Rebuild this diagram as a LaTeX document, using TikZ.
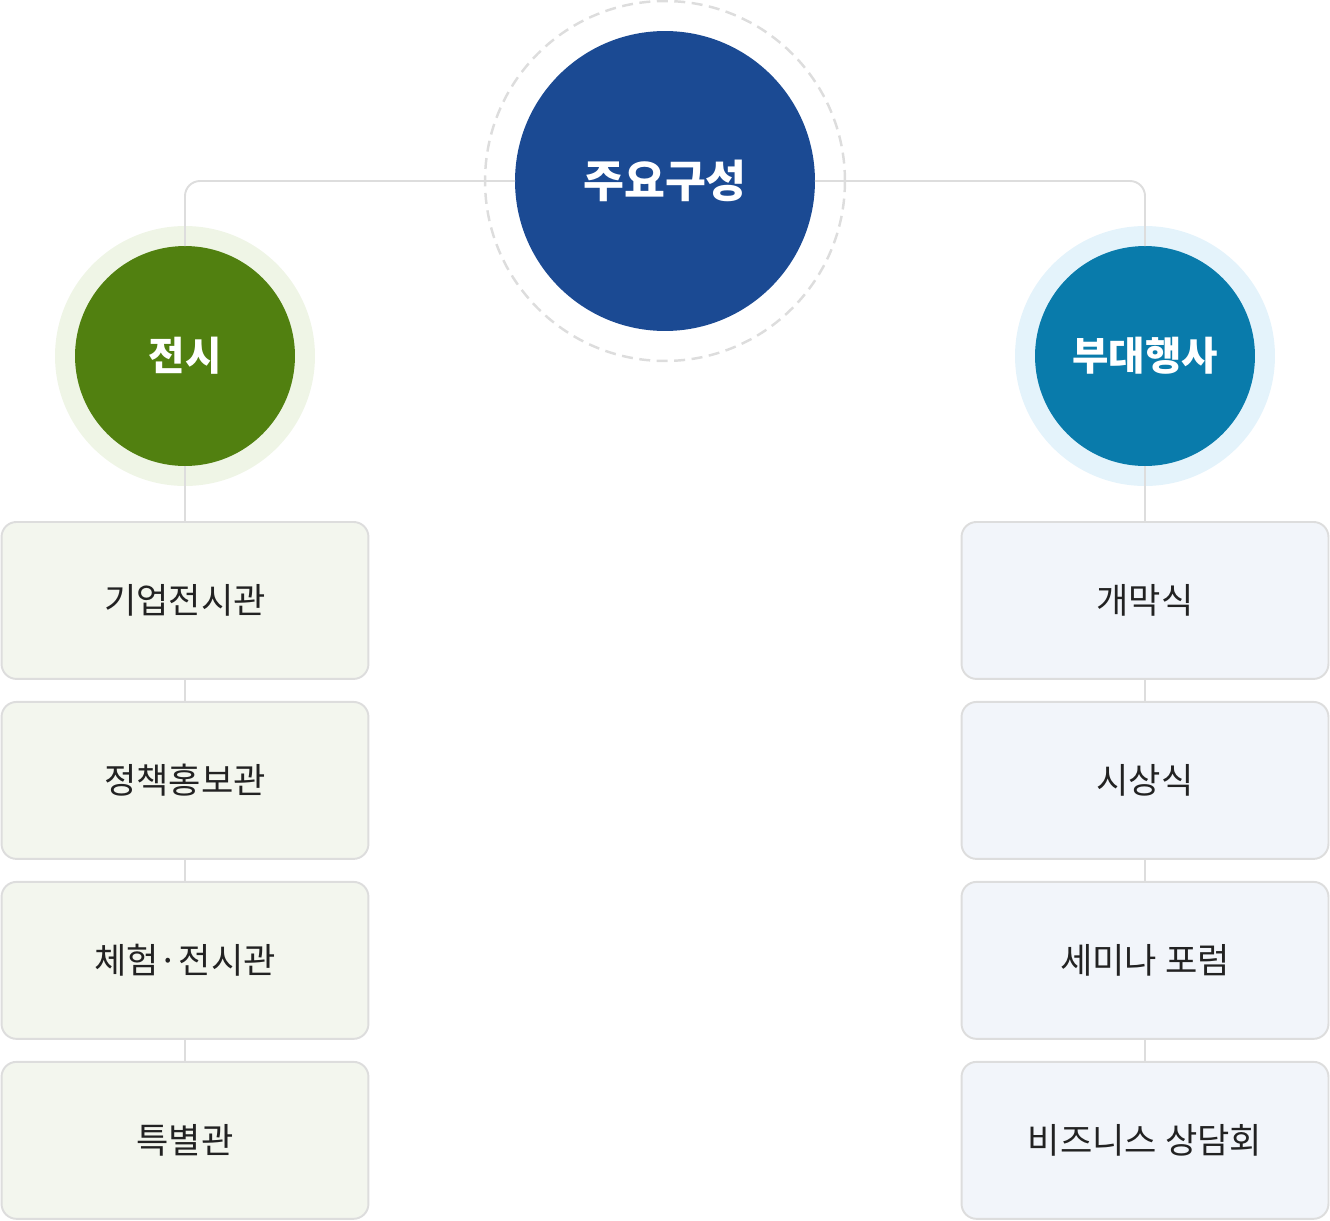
\documentclass[tikz,border=0pt]{standalone}
\usepackage{fontspec}
\setmainfont{Noto Sans CJK KR}
\usetikzlibrary{positioning}

\definecolor{mainblue}{HTML}{1B4A93}
\definecolor{showgreen}{HTML}{518010}
\definecolor{showhalo}{HTML}{EFF5E6}
\definecolor{eventblue}{HTML}{097BAB}
\definecolor{eventhalo}{HTML}{E4F3FB}
\definecolor{showfill}{HTML}{F3F6EE}
\definecolor{eventfill}{HTML}{F2F5FA}
\definecolor{linegray}{HTML}{DDDDDD}
\definecolor{textdark}{HTML}{222222}

\tikzset{
	hub/.style = {circle, text = white, font = \fontsize{22.5}{26}\selectfont\bfseries, minimum size = 4.4cm, inner sep = 0pt, outer sep = 0pt},
	item/.style = {rectangle, rounded corners = 0.3cm, draw = linegray, line width = 1.1pt, text = textdark, font = \fontsize{20}{24}\selectfont, minimum width = 7.34cm, minimum height = 3.14cm, inner sep = 0pt, outer sep = 0pt},
	link/.style = {draw = linegray, line width = 1.1pt, rounded corners = 0.3cm}
}

\begin{document}
\begin{tikzpicture}[x = 0.02cm, y = -0.02cm, node distance = 0.46cm]

	\useasboundingbox (0, 0) rectangle (1330, 1221);

	% Halos
	
		\draw [linegray, dashed, dash pattern = on 0.22cm off 0.13cm, line width = 1.4pt] (665, 181) circle (3.6cm);
		\fill [showhalo] (185, 356) circle (2.6cm);
		\fill [eventhalo] (1145, 356) circle (2.6cm);
	
	% Circles
	
		\node (main) [circle, fill = mainblue, text = white, minimum size = 6cm, inner sep = 0pt, outer sep = 0pt, font = \fontsize{25.3}{29}\selectfont\bfseries] at (665, 181) {주요구성};
		\node (show) [hub, fill = showgreen] at (185, 356) {전시};
		\node (event) [hub, fill = eventblue] at (1145, 356) {부대행사};
	
	% Left column
	
		\begin{scope}[every node/.append style = {item, fill = showfill}]
		
			\node (show1) [below = 1.12cm of show] {기업전시관};
			\node (show2) [below = of show1] {정책홍보관};
			\node (show3) [below = of show2] {체험·전시관};
			\node (show4) [below = of show3] {특별관};
		
		\end{scope}
	
	% Right column
	
		\begin{scope}[every node/.append style = {item, fill = eventfill}]
		
			\node (event1) [below = 1.12cm of event] {개막식};
			\node (event2) [below = of event1] {시상식};
			\node (event3) [below = of event2] {세미나 포럼};
			\node (event4) [below = of event3] {비즈니스 상담회};
		
		\end{scope}
	
	% Links
	
		\draw [link] (main.west) -| (show.north);
		\draw [link] (main.east) -| (event.north);
		
		\draw [link] (show.south) -- (show1.north);
		\draw [link] (show1.south) -- (show2.north);
		\draw [link] (show2.south) -- (show3.north);
		\draw [link] (show3.south) -- (show4.north);
		
		\draw [link] (event.south) -- (event1.north);
		\draw [link] (event1.south) -- (event2.north);
		\draw [link] (event2.south) -- (event3.north);
		\draw [link] (event3.south) -- (event4.north);

\end{tikzpicture}
\end{document}
